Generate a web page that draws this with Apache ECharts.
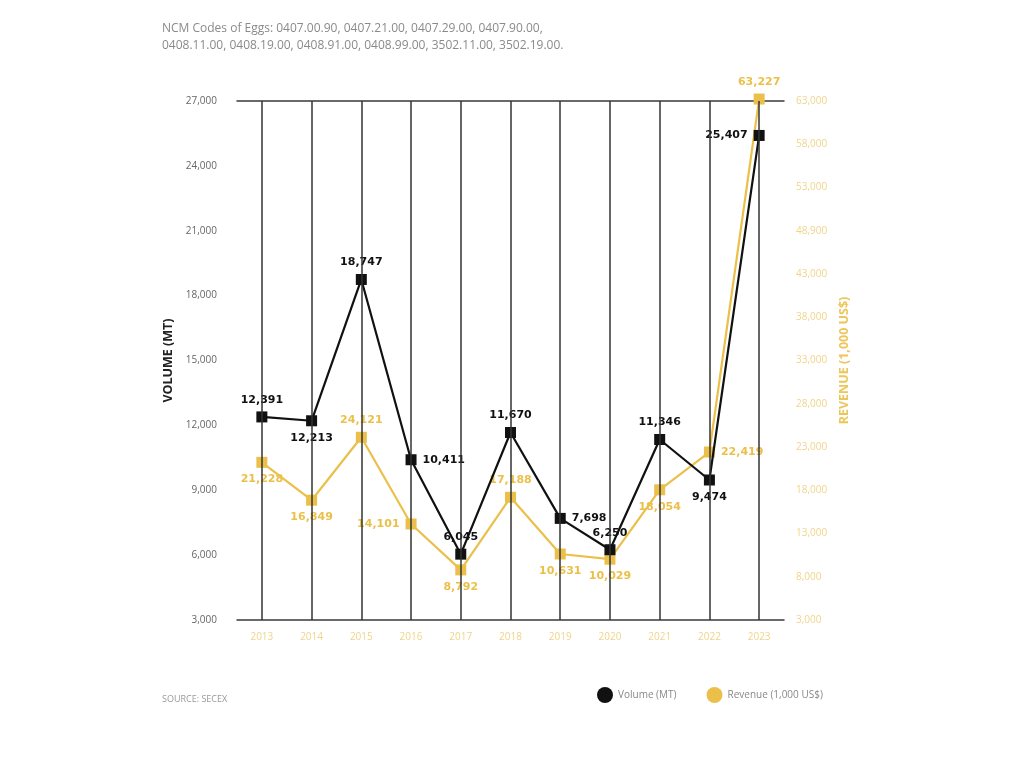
<!DOCTYPE html>
<html>
<head>
<meta charset="utf-8">
<script src="https://cdn.jsdelivr.net/npm/echarts@6/dist/echarts.min.js"></script>
<style>html,body{margin:0;padding:0;background:#fff}#c{width:1024px;height:768px}</style>
</head>
<body>
<div id="c"></div>
<script>
const years = ['2013','2014','2015','2016','2017','2018','2019','2020','2021','2022','2023'];
const volume = [12391, 12213, 18747, 10411, 6045, 11670, 7698, 6250, 11346, 9474, 25407];
const revenue = [21228, 16849, 24121, 14101, 8792, 17188, 10631, 10029, 18054, 22419, 63227];
const volumeLabelPos = ['top','bottom','top','right','top','top','right','top','top','bottom','left'];
const revenueLabelPos = ['bottom','bottom','top','left','bottom','top','bottom','bottom','bottom','right','top'];
const revenueTickLabels = ['3,000','8,000','13,000','18,000','23,000','28,000','33,000','38,000','43,000','48,900','53,000','58,000','63,000'];

const BLACK = '#111111';
const YELLOW = '#ebc04a';
const fmt = v => v.toLocaleString('en-US');

const chart = echarts.init(document.getElementById('c'));
chart.setOption({
  backgroundColor: '#ffffff',
  animation: false,
  textStyle: { fontFamily: 'Open Sans, sans-serif' },
  title: {
    text: 'NCM Codes of Eggs: 0407.00.90, 0407.21.00, 0407.29.00, 0407.90.00,\n0408.11.00, 0408.19.00, 0408.91.00, 0408.99.00, 3502.11.00, 3502.19.00.',
    left: 157, top: 15,
    textStyle: { fontSize: 12, fontWeight: 'normal', color: '#8a8a8a', lineHeight: 17, fontFamily: 'Open Sans, sans-serif' }
  },
  graphic: [{
    type: 'text', left: 162, top: 695,
    style: { text: 'SOURCE: SECEX', fontSize: 9, fill: '#999', fontFamily: 'Open Sans, sans-serif' }
  }],
  legend: {
    left: 592, top: 682, itemGap: 30, icon: 'circle', itemWidth: 16, itemHeight: 16,
    textStyle: { fontSize: 10, color: '#888' },
    data: ['Volume (MT)', 'Revenue (1,000 US$)']
  },
  grid: { left: 237, right: 240, top: 101, bottom: 148, containLabel: false },
  xAxis: [{
    type: 'category', data: years, boundaryGap: true,
    axisLine: { lineStyle: { color: '#3a3a3a', width: 1.5 } },
    axisTick: { show: false },
    axisLabel: { color: '#f0d48a', fontSize: 10, margin: 12 },
    splitLine: { show: false }
  }, {
    type: 'category', data: years, position: 'top', boundaryGap: true,
    axisLine: { lineStyle: { color: '#3a3a3a', width: 1.5 } },
    axisTick: { show: false }, axisLabel: { show: false }
  }],
  yAxis: [{
    type: 'value', min: 3000, max: 27000, interval: 3000, position: 'left',
    name: 'VOLUME (MT)', nameLocation: 'middle', nameGap: 58, nameRotate: 90,
    nameTextStyle: { color: '#222', fontWeight: 'bold', fontSize: 12.5 },
    axisLine: { show: false }, axisTick: { show: false }, splitLine: { show: false },
    axisLabel: { color: '#666', fontSize: 10, margin: 20, formatter: v => fmt(v) }
  }, {
    type: 'value', min: 3000, max: 63000, interval: 5000, position: 'right',
    name: 'REVENUE (1,000 US$)', nameLocation: 'middle', nameGap: 53, nameRotate: 90,
    nameTextStyle: { color: '#edc65a', fontWeight: 'bold', fontSize: 12.5 },
    axisLine: { show: false }, axisTick: { show: false }, splitLine: { show: false },
    axisLabel: { color: '#f0d48a', fontSize: 10, margin: 12,
      formatter: v => revenueTickLabels[Math.round((v - 3000) / 5000)] }
  }],
  series: [{
    name: 'Revenue (1,000 US$)', type: 'line', yAxisIndex: 1, clip: false,
    data: revenue.map((v, i) => ({ value: v, label: { position: revenueLabelPos[i] } })),
    symbol: 'rect', symbolSize: 11,
    lineStyle: { color: YELLOW, width: 2.2 },
    itemStyle: { color: YELLOW },
    label: { show: true, color: YELLOW, fontWeight: 'bold', fontSize: 11, fontFamily: 'DejaVu Sans', formatter: p => fmt(p.value), distance: 6 },
    z: 3,
    markLine: {
      silent: true, symbol: 'none', animation: false,
      lineStyle: { color: '#333', width: 1.5, type: 'solid' },
      label: { show: false },
      data: years.map(y => ({ xAxis: y }))
    }
  }, {
    name: 'Volume (MT)', type: 'line', yAxisIndex: 0,
    data: volume.map((v, i) => ({ value: v, label: { position: volumeLabelPos[i] } })),
    symbol: 'rect', symbolSize: 11,
    lineStyle: { color: BLACK, width: 2.2 },
    itemStyle: { color: BLACK },
    label: { show: true, color: '#111', fontWeight: 'bold', fontSize: 11, fontFamily: 'DejaVu Sans', formatter: p => fmt(p.value), distance: 6 },
    z: 4
  }]
});
</script>
</body>
</html>
